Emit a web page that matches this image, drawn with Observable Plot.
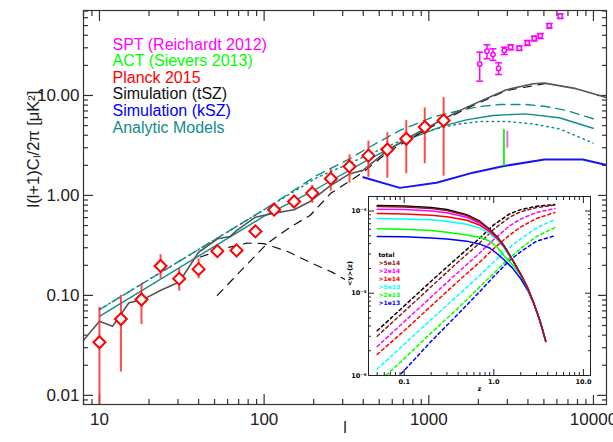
<!DOCTYPE html>
<html><head><meta charset="utf-8">
<script src="https://cdn.jsdelivr.net/npm/d3@7"></script>
<script src="https://cdn.jsdelivr.net/npm/@observablehq/plot@0.6"></script>
<style>
body{margin:0;background:#fff;}
#wrap{position:relative;width:613px;height:442px;overflow:hidden;}
#inset{position:absolute;left:345px;top:190px;}
</style></head><body><div id="wrap"><div id="main"></div><div id="inset"></div></div>
<script>
// ---------------- main chart data ----------------
const xTicks = [10, 100, 1000, 10000];
const xTickLabels = ["10", "100", "1000", "10000"];
const yTicks = [0.01, 0.1, 1, 10];
const yTickLabels = ["0.01", "0.10", "1.00", "10.00"];

const planckL  = [10,13.5,18,23.5,30.5,40,52,68,88.5,115,152,196,254,330,430,560,730,945,1230];
const planckV  = [0.034,0.058,0.091,0.197,0.147,0.183,0.277,0.282,0.437,0.72,0.87,1.055,1.47,1.95,2.5,2.88,3.69,4.83,5.62];
const planckHi = [0.076,0.10,0.13,0.255,0.185,0.233,0.31,0.316,0.475,0.826,0.93,1.26,1.82,2.55,3.5,4.24,5.6,7.5,9.5];
const planckLo = [0.001,0.0171,0.051,0.147,0.110,0.147,0.238,0.238,0.383,0.63,0.76,0.83,1.10,1.33,1.52,1.49,1.65,2.07,1.56];

const sptL  = [2038,2256,2453,2655,2875,3140,3545,3965,4370,4755,5390,6285];
const sptV  = [20.7,27.7,25.7,18.6,28.2,30.4,29.7,33.6,37.2,39.5,49.8,62.1];
const sptHi = [27.1,32.1,29.3,21.2,30.4,32.1,31.2,35.5,39.3,41.7,52.5,65.5];
const sptLo = [13.9,23.3,22.4,16.2,25.7,28.6,28.2,31.6,35.1,37.1,47.1,58.9];

const actL = [2858], actLo = [1.96], actHi = [4.57];
const sptSzL = [3000], sptSzLo = [2.97], sptSzHi = [4.39];

const tszL = [8.0,10,12,15.1,18.5,23.4,30.5,40,52.1,62.2,68.3,88.5,115,152,190,254,332,398,562,733,950,1238,1692,2958,4290,5045,7850,11830];
const tszV = [0.0355,0.055,0.049,0.0845,0.0912,0.112,0.136,0.27,0.368,0.389,0.447,0.606,0.665,0.72,0.87,1.26,1.65,1.78,2.82,3.69,4.64,5.84,7.6,11.4,13.1,13.3,11.7,9.6];

const kszL = [400,667,1114,1855,2818,5045,8600,11830];
const kszV = [1.52,1.19,1.34,1.69,1.96,2.29,2.29,2.03];

const oneHaloL = [52,72.6,104,144,190,254,398,562,950,1692,2958,5045];
const oneHaloV = [0.1,0.178,0.329,0.482,0.63,1.05,1.7,2.7,4.5,7.4,11.2,13.1];
const twoHaloL = [41,60,78.6,99.5,138,190,260,360];
const twoHaloV = [0.242,0.3,0.333,0.33,0.276,0.214,0.17,0.125];

const anaSolidL = [10,100,200,431,733,1238,1692,2450,3870,6200,9950];
const anaSolidV = [0.0617,0.62,1.12,2.3,3.6,5.0,5.7,6.3,6.55,5.98,4.7];
const anaDashL = [10,100,208,332,418,667,1056,1546,2038,2700,3890,5150,6860,9960];
const anaDashV = [0.072,0.72,1.58,2.33,2.93,4.47,6.07,7.08,7.76,8.13,8.13,7.76,7.08,5.85];
const anaDotL = [10,100,208,332,418,667,967,1460,2038,2960,4290,6200,9950];
const anaDotV = [0.072,0.72,1.5,2.1,2.5,3.5,4.4,5.13,5.5,5.5,5.2,4.65,3.34];

const legendNames = ["SPT (Reichardt 2012)","ACT (Sievers 2013)","Planck 2015","Simulation (tSZ)","Simulation (kSZ)","Analytic Models"];
const legendColors = ["#ff00ff","#00ff00","#ff0000","#111111","#0000ff","#108c8c"];

// ---------------- inset data ----------------
const zSolid = [0.05,0.1,0.2,0.3,0.5,0.7,0.9,1.1,1.3,1.6,2.0,2.4,2.8,3.2,3.5,3.8];
const solidTotal = [1.17e-4,1.15e-4,1.1e-4,1.04e-4,9.0e-5,7.5e-5,6.0e-5,4.8e-5,3.8e-5,2.6e-5,1.7e-5,1.15e-5,7.5e-6,5.0e-6,3.6e-6,2.6e-6];
const solid5e14  = [1.13e-4,1.12e-4,1.07e-4,1.01e-4,8.8e-5,7.4e-5,5.95e-5,4.78e-5,3.78e-5,2.6e-5,1.7e-5,1.15e-5,7.5e-6,5.0e-6,3.6e-6,2.6e-6];
const solid2e14  = [1.05e-4,1.04e-4,1.0e-4,9.5e-5,8.4e-5,7.1e-5,5.8e-5,4.7e-5,3.75e-5,2.6e-5,1.7e-5,1.15e-5,7.5e-6,5.0e-6,3.6e-6,2.6e-6];
const solid1e14  = [9.3e-5,9.2e-5,8.9e-5,8.5e-5,7.7e-5,6.7e-5,5.6e-5,4.6e-5,3.7e-5,2.58e-5,1.7e-5,1.15e-5,7.5e-6,5.0e-6,3.6e-6,2.6e-6];
const solid5e13  = [8.1e-5,8.0e-5,7.8e-5,7.5e-5,6.9e-5,6.2e-5,5.3e-5,4.45e-5,3.6e-5,2.55e-5,1.7e-5,1.15e-5,7.5e-6,5.0e-6,3.6e-6,2.6e-6];
const solid2e13  = [6.1e-5,6.0e-5,5.8e-5,5.5e-5,5.1e-5,4.8e-5,4.3e-5,3.6e-5,2.85e-5,2.25e-5,1.65e-5,1.13e-5,7.5e-6,5.0e-6,3.6e-6,2.6e-6];
const solid1e13  = [4.9e-5,4.85e-5,4.7e-5,4.55e-5,4.3e-5,3.95e-5,3.55e-5,3.0e-5,2.55e-5,2.05e-5,1.5e-5,1.08e-5,7.4e-6,5.0e-6,3.6e-6,2.6e-6];

const zDash = [0.05,0.1,0.2,0.4,0.7,1.0,1.5,2,3,4.8];
const dashTotal = [3.5e-6,7.0e-6,1.4e-5,2.75e-5,4.7e-5,6.8e-5,9.2e-5,1.04e-4,1.14e-4,1.2e-4];
const dash5e14  = [3.0e-6,6.0e-6,1.2e-5,2.4e-5,4.1e-5,6.0e-5,8.4e-5,9.8e-5,1.1e-4,1.18e-4];
const dash2e14  = [2.25e-6,4.5e-6,9.0e-6,1.8e-5,3.1e-5,4.5e-5,6.6e-5,8.0e-5,9.6e-5,1.07e-4];
const dash1e14  = [1.8e-6,3.5e-6,7.0e-6,1.4e-5,2.4e-5,3.5e-5,5.1e-5,6.4e-5,8.1e-5,9.6e-5];
const dash5e13  = [1.2e-6,2.4e-6,4.8e-6,9.5e-6,1.65e-5,2.4e-5,3.6e-5,4.6e-5,6.2e-5,7.9e-5];
const dash2e13  = [0.8e-6,1.6e-6,3.3e-6,6.6e-6,1.2e-5,1.75e-5,2.7e-5,3.5e-5,4.9e-5,6.3e-5];
const dash1e13  = [0.5e-6,1.15e-6,2.6e-6,5.6e-6,1.05e-5,1.6e-5,2.5e-5,3.2e-5,4.3e-5,5.0e-5];

const insetNames  = ["total",">5e14",">2e14",">1e14",">5e13",">2e13",">1e13"];
const insetColors = ["#000000","#8b1a1a","#ff00ff","#ff0000","#00ffff","#00ff00","#0000ff"];
const insetSolids = [solidTotal,solid5e14,solid2e14,solid1e14,solid5e13,solid2e13,solid1e13];
const insetDashes = [dashTotal,dash5e14,dash2e14,dash1e14,dash5e13,dash2e13,dash1e13];
const insetXTicks = [0.1, 1, 10];
const insetXTickLabels = ["0.1", "1.0", "10.0"];
const insetYTicks = [1e-6, 1e-5, 1e-4];
const insetYTickLabels = ["10\u207B\u2076", "10\u207B\u2075", "10\u207B\u2074"];

// ---------------- helpers ----------------
const pts = (xs, ys) => xs.map((x, i) => ({x, y: ys[i]}));
const bars = (xs, lo, hi) => xs.map((x, i) => ({x, lo: lo[i], hi: hi[i]}));
function logMinors(lo, hi) {
  const out = [];
  for (let e = Math.floor(Math.log10(lo)); e <= Math.ceil(Math.log10(hi)); e++)
    for (let k = 2; k <= 9; k++) { const v = k * Math.pow(10, e); if (v >= lo && v <= hi) out.push(v); }
  return out;
}
const capSymbol = {draw(ctx, size) { const w = Math.sqrt(size / Math.PI); ctx.moveTo(-w, 0); ctx.lineTo(w, 0); }};
function frameTicks(xMaj, xMin, yMaj, yMin, big, small, color, sw) {
  const o = {stroke: color, strokeWidth: sw, label: null, tickFormat: () => ""};
  return [
    Plot.axisX(xMaj, {...o, anchor: "bottom", tickSize: big, dy: -big}),
    Plot.axisX(xMin, {...o, anchor: "bottom", tickSize: small, dy: -small}),
    Plot.axisX(xMaj, {...o, anchor: "top", tickSize: big, dy: big}),
    Plot.axisX(xMin, {...o, anchor: "top", tickSize: small, dy: small}),
    Plot.axisY(yMaj, {...o, anchor: "left", tickSize: big, dx: big}),
    Plot.axisY(yMin, {...o, anchor: "left", tickSize: small, dx: small}),
    Plot.axisY(yMaj, {...o, anchor: "right", tickSize: big, dx: -big}),
    Plot.axisY(yMin, {...o, anchor: "right", tickSize: small, dx: -small})
  ];
}

const xDom = [8, 12000], yDom = [0.0081, 70.8];
const teal = "#108c8c";

const main = Plot.plot({
  width: 613, height: 442,
  marginLeft: 83, marginRight: 7, marginTop: 10, marginBottom: 38,
  style: {fontFamily: "'Liberation Sans', Arial, sans-serif", fontSize: "17px", color: "#222", background: "#fff"},
  x: {type: "log", domain: xDom},
  y: {type: "log", domain: yDom},
  marks: [
    ...frameTicks(xTicks, logMinors(8, 12000), yTicks, logMinors(0.0081, 70.8), 10, 5, "#333", 1.2),
    Plot.axisX(xTicks, {anchor: "bottom", tickSize: 0, tickPadding: 8, label: null, fill: "#222",
      tickFormat: d => xTickLabels[xTicks.indexOf(d)]}),
    Plot.axisY(yTicks, {anchor: "left", tickSize: 0, tickPadding: 4, label: null, fill: "#222",
      tickFormat: d => yTickLabels[yTicks.indexOf(d)]}),
    Plot.text(["l"], {frameAnchor: "bottom", dy: 28, text: d => d, fill: "#222", fontSize: 16}),
    Plot.text(["l(l+1)C\u2097/2\u03C0 [\u03BCK\u00B2]"], {frameAnchor: "left", dx: -50, rotate: -90, text: d => d, fill: "#222", fontSize: 16.5}),
    // analytic models
    Plot.line(pts(anaDashL, anaDashV), {x: "x", y: "y", stroke: teal, strokeWidth: 1.4, strokeDasharray: "9,6", clip: true}),
    Plot.line(pts(anaDotL, anaDotV), {x: "x", y: "y", stroke: teal, strokeWidth: 1.5, strokeDasharray: "1.5,4", clip: true}),
    Plot.line(pts(anaSolidL, anaSolidV), {x: "x", y: "y", stroke: teal, strokeWidth: 1.4, clip: true}),
    // halo terms
    Plot.line(pts(oneHaloL, oneHaloV), {x: "x", y: "y", stroke: "#111", strokeWidth: 1.2, strokeDasharray: "8,7", clip: true}),
    Plot.line(pts(twoHaloL, twoHaloV), {x: "x", y: "y", stroke: "#111", strokeWidth: 1.2, strokeDasharray: "8,7", clip: true}),
    // simulations
    Plot.line(pts(tszL, tszV), {x: "x", y: "y", stroke: "#555", strokeWidth: 1.6, clip: true}),
    Plot.line(pts(kszL, kszV), {x: "x", y: "y", stroke: "#1515f0", strokeWidth: 2, clip: true}),
    // ACT & SPT tSZ constraints
    Plot.ruleX(bars(actL, actLo, actHi), {x: "x", y1: "lo", y2: "hi", stroke: "#22ee22", strokeWidth: 2}),
    Plot.ruleX(bars(sptSzL, sptSzLo, sptSzHi), {x: "x", y1: "lo", y2: "hi", stroke: "#ee66ee", strokeWidth: 2}),
    // Planck
    Plot.ruleX(bars(planckL, planckLo, planckHi), {x: "x", y1: "lo", y2: "hi", stroke: "#ff2a2a", strokeOpacity: 0.85, strokeWidth: 2, clip: true}),
    Plot.dot(pts(planckL, planckV), {x: "x", y: "y", symbol: "diamond2", r: 5.4, stroke: "#ff0000", strokeWidth: 2, fill: "#fff"}),
    // SPT
    Plot.ruleX(bars(sptL, sptLo, sptHi), {x: "x", y1: "lo", y2: "hi", stroke: "#ff00ff", strokeWidth: 1.5}),
    Plot.dot(pts(sptL, sptHi), {x: "x", y: "y", symbol: capSymbol, r: 3.5, stroke: "#ff00ff", strokeWidth: 1.5}),
    Plot.dot(pts(sptL, sptLo), {x: "x", y: "y", symbol: capSymbol, r: 3.5, stroke: "#ff00ff", strokeWidth: 1.5}),
    Plot.dot(pts(sptL, sptV), {x: "x", y: "y", r: 2.2, stroke: "#ff00ff", strokeWidth: 1.5, fill: "#fff"}),
    // legend
    ...legendNames.map((name, i) => Plot.text([name], {frameAnchor: "top-left", dx: 29, dy: 34 + i * 16.6,
      text: d => d, fill: legendColors[i], fontSize: 16, textAnchor: "start", lineAnchor: "middle"})),
    Plot.frame({stroke: "#333", strokeWidth: 1.2})
  ]
});
document.getElementById("main").appendChild(main);

// ---------------- inset ----------------
const inset = Plot.plot({
  width: 253, height: 205,
  marginLeft: 23, marginRight: 8, marginTop: 6, marginBottom: 20,
  style: {fontFamily: "'DejaVu Sans', sans-serif", fontSize: "6.5px", fontWeight: "bold", color: "#000", background: "#fff"},
  x: {type: "log", domain: [0.04, 12]},
  y: {type: "log", domain: [1e-6, 1.5e-4]},
  marks: [
    ...frameTicks(insetXTicks, logMinors(0.04, 12), insetYTicks, logMinors(1e-6, 1.5e-4), 6, 3, "#222", 1),
    Plot.axisX(insetXTicks, {anchor: "bottom", tickSize: 0, tickPadding: 4, label: null,
      tickFormat: d => insetXTickLabels[insetXTicks.indexOf(d)]}),
    Plot.axisY(insetYTicks, {anchor: "left", tickSize: 0, tickPadding: 2, label: null,
      tickFormat: d => insetYTickLabels[insetYTicks.indexOf(d)]}),
    Plot.text(["z"], {frameAnchor: "bottom", dy: 15, text: d => d}),
    Plot.text(["<y>(z)"], {frameAnchor: "left", dx: -19, rotate: -90, text: d => d}),
    ...insetDashes.map((ys, i) => Plot.line(pts(zDash, ys), {x: "x", y: "y", stroke: insetColors[i], strokeWidth: 1.5, strokeDasharray: "3,3", clip: true})),
    ...[0, 6, 5, 4, 3, 2, 1].map(i => Plot.line(pts(zSolid, insetSolids[i]), {x: "x", y: "y", stroke: insetColors[i], strokeWidth: 1.5, clip: true})),
    ...insetNames.map((name, i) => Plot.text([name], {frameAnchor: "top-left", dx: 10, dy: 59 + i * 8,
      text: d => d, fill: insetColors[i], fontSize: 6, textAnchor: "start", lineAnchor: "middle"})),
    Plot.frame({stroke: "#222", strokeWidth: 1})
  ]
});
document.getElementById("inset").appendChild(inset);
</script>
</body></html>
